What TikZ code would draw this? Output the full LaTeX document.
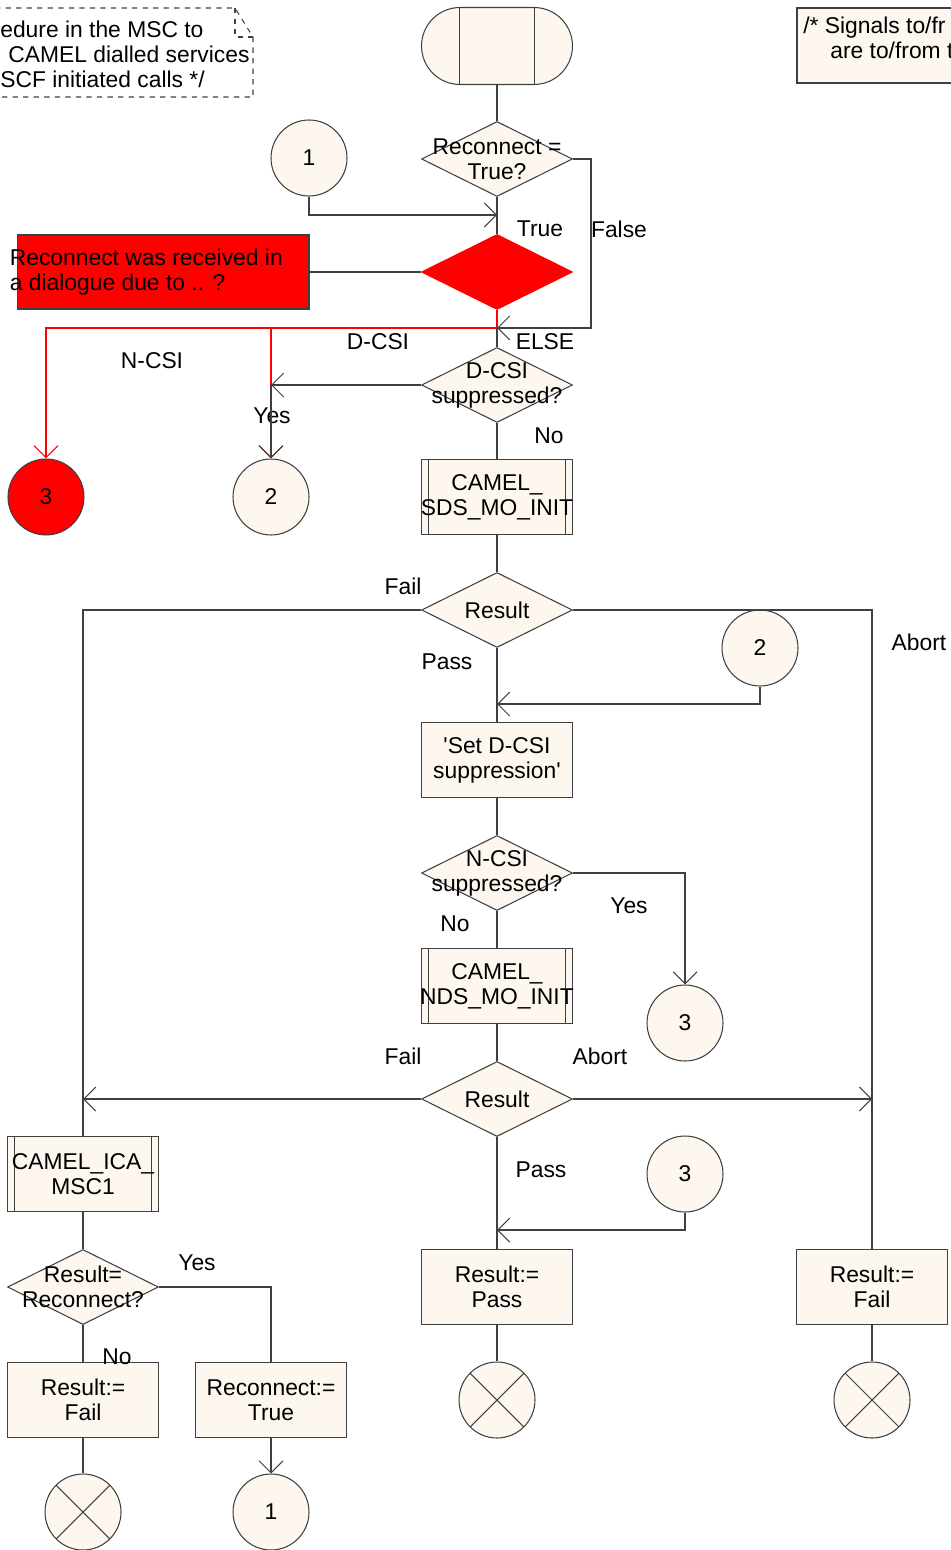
\documentclass[tikz,border=0pt]{standalone}
\usepackage{fontspec}
\setmainfont{Liberation Sans}
\usepackage{tikz}
\usetikzlibrary{arrows.meta, positioning, shapes.geometric, shapes.misc}
\usepackage{xcolor}
\definecolor{sdlfill}{HTML}{FDF7EF}
\definecolor{sdlline}{HTML}{404040}
\newcommand\sdlquote{\XeTeXglyph\XeTeXcharglyph"0027\relax}

\begin{document}
\begin{tikzpicture}[
    x=0.02cm, y=-0.02cm,
    every node/.style={font=\fontsize{13}{14.2}\selectfont},
    line/.style={draw=sdlline, line width=0.6pt},
    arrow/.style={line, -{Straight Barb[length=0.24cm, width=0.48cm]}},
    redline/.style={line, draw=red},
    redarrow/.style={arrow, draw=red},
    txt/.style={label={[align=center, inner sep=0pt]center:{#1}}},
    box/.style={draw=sdlline, line width=0.6pt, fill=sdlfill, align=center,
                minimum width=3.02cm, minimum height=1.5cm, inner sep=0pt},
    proc/.style={box, path picture={
        \draw[sdlline, line width=0.6pt]
          ([xshift=0.14cm]path picture bounding box.north west) -- ([xshift=0.14cm]path picture bounding box.south west)
          ([xshift=-0.14cm]path picture bounding box.north east) -- ([xshift=-0.14cm]path picture bounding box.south east);}},
    dec/.style={diamond, draw=sdlline, line width=0.6pt, fill=sdlfill,
                minimum width=3.02cm, minimum height=1.5cm, inner sep=0pt},
    conn/.style={circle, draw=sdlline, line width=0.6pt, fill=sdlfill,
                 minimum size=1.52cm, inner sep=0pt},
    stopnode/.style={conn, path picture={
        \draw[sdlline, line width=0.6pt]
          (path picture bounding box.north west) -- (path picture bounding box.south east)
          (path picture bounding box.north east) -- (path picture bounding box.south west);}},
    startnode/.style={rounded rectangle, draw=sdlline, line width=0.6pt, fill=sdlfill,
                minimum width=3.02cm, minimum height=1.54cm, inner sep=0pt, path picture={
        \draw[sdlline, line width=0.6pt]
          ([xshift=0.76cm]path picture bounding box.north west) -- ([xshift=0.76cm]path picture bounding box.south west)
          ([xshift=-0.76cm]path picture bounding box.north east) -- ([xshift=-0.76cm]path picture bounding box.south east);}},
    lbl/.style={inner sep=0pt}
]
    \useasboundingbox (0,0) rectangle (950,1550);

    % comment boxes
    \draw[sdlline, line width=0.6pt, dashed] (-5,8) -- (235,8) -- (253,37) -- (253,97) -- (-5,97);
    \draw[sdlline, line width=0.6pt, dashed] (235,8) -- (235,37) -- (253,37);
    \node[lbl, anchor=west, align=left] (note) at (0,54)
        {edure in the MSC to\\\hspace*{0.16cm}CAMEL dialled services\\SCF initiated calls */};
    \draw[sdlline, line width=0.6pt, fill=sdlfill] (797,8) rectangle (960,83);
    \node[lbl, anchor=north west, align=left] (sig) at (803,17)
        {/* Signals to/fr\\\hspace*{0.54cm}are to/from t};

    \node[startnode] (start) at (497,46) {};
    \node[dec, txt={Reconnect =\\True?}] (recq) at (497,159) {};
    \node[conn] (c1a) at (309,158) {1};
    \node[dec, fill=red, draw=red] (redq) at (497,272) {};
    \node[box, fill=red, minimum width=5.84cm, minimum height=1.48cm,
          label={[align=left, anchor=west, inner sep=0pt, xshift=-0.14cm]west:{Reconnect was received in\\a dialogue due to .. ?}}]
          (redbox) at (163,272) {};
    \node[dec, txt={D-CSI\\suppressed?}] (dcsiq) at (497,385) {};
    \node[conn, fill=red] (c3red) at (46,497) {3};
    \node[conn] (c2a) at (271,497) {2};
    \node[proc, txt={CAMEL\_\\SDS\_MO\_INIT}] (sds) at (497,497) {};
    \node[dec, txt={Result}] (res1) at (497,610) {};
    \node[conn] (c2b) at (760,648) {2};
    \node[box] (setd) at (497,760) {\sdlquote Set D-CSI\\suppression\sdlquote};
    \node[dec, txt={N-CSI\\suppressed?}] (ncsiq) at (497,873) {};
    \node[conn] (c3a) at (685,1023) {3};
    \node[proc, txt={CAMEL\_\\NDS\_MO\_INIT}] (nds) at (497,986) {};
    \node[dec, txt={Result}] (res2) at (497,1099) {};
    \node[conn] (c3b) at (685,1174) {3};
    \node[box] (rpass) at (497,1287) {Result:=\\Pass};
    \node[stopnode] (stop1) at (497,1400) {};
    \node[box] (rfail) at (872,1287) {Result:=\\Fail};
    \node[stopnode] (stop2) at (872,1400) {};
    \node[proc, txt={CAMEL\_ICA\_\\MSC1}] (ica) at (83,1174) {};
    \node[dec, txt={Result=\\Reconnect?}] (resrec) at (83,1287) {};
    \node[box] (rfail2) at (83,1400) {Result:=\\Fail};
    \node[box] (rtrue) at (271,1400) {Reconnect:=\\True};
    \node[stopnode] (stop3) at (83,1512) {};
    \node[conn] (c1b) at (271,1512) {1};

    \node[lbl] (ltrue) at (540,229) {True};
    \node[lbl] (lfalse) at (619,229) {False};
    \node[lbl] (ldcsi) at (378,342) {D-CSI};
    \node[lbl] (lncsi) at (152,361) {N-CSI};
    \node[lbl] (lelse) at (545,342) {ELSE};
    \node[lbl] (lyes1) at (272,416) {Yes};
    \node[lbl] (lno1) at (549,436) {No};
    \node[lbl] (lfail1) at (403,586) {Fail};
    \node[lbl] (labort1) at (919,642) {Abort};
    \node[lbl] (lpass1) at (447,662) {Pass};
    \node[lbl] (lyes2) at (629,906) {Yes};
    \node[lbl] (lno2) at (455,924) {No};
    \node[lbl] (lfail2) at (403,1056) {Fail};
    \node[lbl] (labort2) at (600,1056) {Abort};
    \node[lbl] (lpass2) at (541,1170) {Pass};
    \node[lbl] (lyes3) at (197,1263) {Yes};
    \node[lbl] (lno3) at (117,1357) {No};

    \coordinate (j1) at (497,215);
    \coordinate (j2) at (497,328);
    \coordinate (j3) at (497,704);
    \coordinate (j4) at (497,1230);

    \draw[line] (start) -- (recq);
    \draw[arrow] (c1a) |- (j1);
    \draw[line] (recq) -- (redq);
    \draw[arrow] (recq.east) -- ++(18,0) |- (j2);
    \draw[line] (redbox) -- (redq);
    \draw[redline] (redq) -- (j2);
    \draw[redarrow] (j2) -| (c3red);
    \draw[redarrow] (j2 -| c2a) -- (c2a);
    \draw[line] (j2) -- (dcsiq);
    \draw[arrow] (dcsiq.west) -- (dcsiq.west -| c2a);
    \draw[arrow] (dcsiq.west -| c2a) -- (c2a);
    \draw[line] (dcsiq) -- (sds);
    \draw[line] (sds) -- (res1);
    \draw[line] (res1.west) -| (ica);
    \draw[line] (res1.east) -| (rfail);
    \draw[line] (res1) -- (setd);
    \draw[arrow] (c2b) |- (j3);
    \draw[line] (setd) -- (ncsiq);
    \draw[arrow] (ncsiq.east) -| (c3a);
    \draw[line] (ncsiq) -- (nds);
    \draw[line] (nds) -- (res2);
    \draw[arrow] (res2.west) -- (res2.west -| ica);
    \draw[arrow] (res2.east) -- (res2.east -| rfail);
    \draw[line] (res2) -- (rpass);
    \draw[arrow] (c3b) |- (j4);
    \draw[line] (rpass) -- (stop1);
    \draw[line] (rfail) -- (stop2);
    \draw[line] (ica) -- (resrec);
    \draw[line] (resrec.east) -| (rtrue);
    \draw[line] (resrec) -- (rfail2);
    \draw[line] (rfail2) -- (stop3);
    \draw[arrow] (rtrue) -- (c1b);
\end{tikzpicture}
\end{document}
